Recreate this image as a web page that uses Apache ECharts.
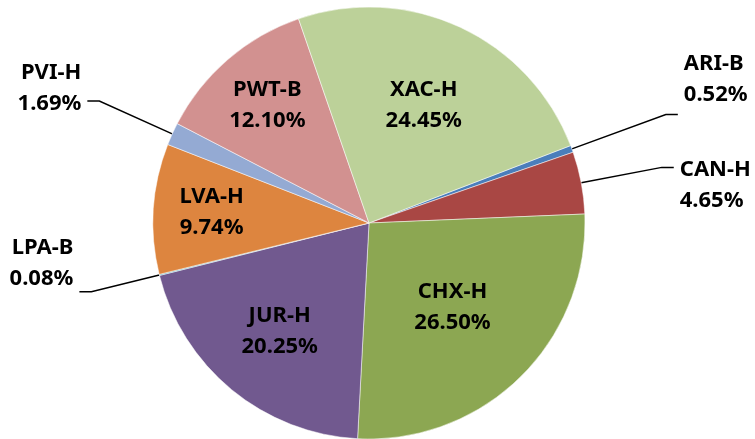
<!DOCTYPE html>
<html>
<head>
<meta charset="utf-8">
<script src="https://cdn.jsdelivr.net/npm/echarts@6/dist/echarts.min.js"></script>
<style>
  html, body { margin: 0; padding: 0; background: #fff; }
  #chart { width: 755px; height: 439px; }
</style>
</head>
<body>
<div id="chart"></div>
<script>
// datos del gráfico (porcentajes)
var categorias = ["ARI-B", "CAN-H", "CHX-H", "JUR-H", "LPA-B", "LVA-H", "PVI-H", "PWT-B", "XAC-H"];
var valores = [0.52, 4.65, 26.50, 20.25, 0.08, 9.74, 1.69, 12.10, 24.45];
var colores = ["#4A7EBB", "#A94744", "#8CA752", "#71598F", "#4BACC6", "#DD853F", "#94AAD3", "#D29190", "#BCD199"];

// estilo de etiquetas: dentro (radio relativo) o fuera (largo de la línea)
var dentro = [false, false, true, true, false, true, false, true, true];
var radioEtiqueta = [0, 0, 0.55, 0.65, 0, 0.73, 0, 0.72, 0.6];
var largoLinea = [[100, 12], [82, 12], 0, 0, [70, 12], 0, [80, 12], 0, 0];
// espacio extra arriba (+) o abajo (-) del texto exterior
var espacio = [-70, 36, 0, 0, -58, 0, -26, 0, 0];

var cx = 369, cy = 223, R = 216, inicio = 21;

var total = valores.reduce(function (a, b) { return a + b; }, 0);
var angMedio = [];
var acum = 0;
valores.forEach(function (v) {
  angMedio.push(inicio - (acum + v / 2) / total * 360);
  acum += v;
});

var myChart = echarts.init(document.getElementById("chart"));

var datos = categorias.map(function (c, i) {
  var item = {
    name: c,
    value: valores[i],
    itemStyle: { color: colores[i] }
  };
  if (dentro[i]) {
    item.label = { position: "inside" };
    item.labelLine = { show: false };
  } else {
    item.label = { position: "outside" };
    item.labelLine = { show: true, length: largoLinea[i][0], length2: largoLinea[i][1] };
  }
  return item;
});

var rich = {};
espacio.forEach(function (h, i) {
  if (h) rich["e" + i] = { fontSize: 2, lineHeight: Math.abs(h) };
});

myChart.setOption({
  animation: false,
  series: [
    {
      type: "pie",
      center: [cx, cy],
      radius: R,
      startAngle: inicio,
      clockwise: true,
      avoidLabelOverlap: false,
      data: datos,
      itemStyle: { borderColor: "#fff", borderWidth: 0.5 },
      label: {
        show: true,
        color: "#000",
        fontFamily: "Noto Sans",
        fontWeight: "bold",
        fontSize: 22,
        lineHeight: 31,
        align: "center",
        distanceToLabelLine: 6,
        rich: rich,
        formatter: function (p) {
          var i = p.dataIndex;
          var txt = p.name + "\n" + p.value.toFixed(2) + "%";
          if (espacio[i] > 0) txt = "{e" + i + "| }\n" + txt;
          if (espacio[i] < 0) txt = txt + "\n{e" + i + "| }";
          return txt;
        }
      },
      labelLine: {
        lineStyle: { color: "#000", width: 1.5 }
      },
      labelLayout: function (p) {
        var i = p.dataIndex;
        if (!dentro[i]) return {};
        var a = angMedio[i] * Math.PI / 180;
        var r = R * radioEtiqueta[i];
        return {
          x: cx + r * Math.cos(a),
          y: cy - r * Math.sin(a),
          align: "center",
          verticalAlign: "middle"
        };
      }
    }
  ]
});
</script>
</body>
</html>
